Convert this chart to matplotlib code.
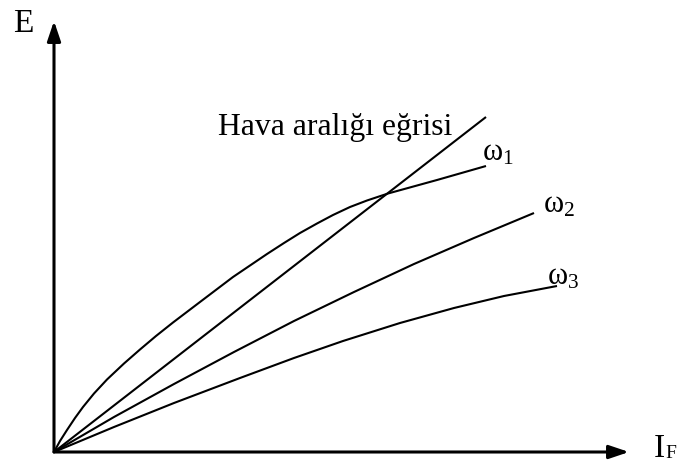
import matplotlib.pyplot as plt

plt.rcParams['font.family'] = ['Liberation Serif', 'DejaVu Serif']
plt.rcParams['mathtext.fontset'] = 'custom'
plt.rcParams['mathtext.rm'] = 'Liberation Serif'
plt.rcParams['mathtext.default'] = 'rm'

# Hava aralığı eğrisi (doğru)
air_x = [0, 432]
air_y = [0, 335]

# Mıknatıslanma eğrileri, farklı hızlar için
w1_x = [0, 6, 13, 21, 29, 40, 53, 70, 86, 102, 119, 146, 179, 213, 230, 246,
        263, 279, 296, 313, 334, 383, 432]
w1_y = [0, 11, 22, 34, 45, 58.5, 72.5, 88.5, 102.5, 116, 129.5, 150, 175, 198,
        209, 219, 228.5, 237, 245, 251.5, 258.5, 272, 286]

w2_x = [0, 60, 120, 180, 240, 300, 360, 420, 480]
w2_y = [0, 35, 68, 100, 131, 160, 188, 214, 239]

w3_x = [0, 60, 120, 186, 240, 289, 346, 400, 450, 503]
w3_y = [0, 25, 49, 74, 94, 111, 129, 144, 156, 166]

fig = plt.figure(figsize=(6.78, 4.67), dpi=100)
ax = fig.add_axes([0, 0, 1, 1])
ax.set_xlim(-54, 624)
ax.set_ylim(-15, 452)
ax.axis('off')

lw = 1.5
for xs, ys in [(air_x, air_y), (w1_x, w1_y), (w2_x, w2_y), (w3_x, w3_y)]:
    ax.plot(xs, ys, color='black', lw=lw, solid_capstyle='butt',
            solid_joinstyle='round')

# eksenler
arrow = dict(arrowstyle='-|>,head_length=0.8,head_width=0.27', lw=2.2,
             color='black', mutation_scale=15, shrinkA=0, shrinkB=0)
ax.annotate('', xy=(0, 431), xytext=(0, 0), arrowprops=arrow)
ax.annotate('', xy=(575, 0), xytext=(0, 0), arrowprops=arrow)

ax.text(-41, 420, 'E', fontsize=24, ha='left', va='baseline')
ax.text(600, -5, 'I', fontsize=24, ha='left', va='baseline')
ax.text(611, -6, 'F', fontsize=14, ha='left', va='baseline')

ax.text(164, 325, 'Hava aralığı eğrisi', fontsize=22.8, ha='left', va='center')
ax.text(428, 299, 'ω$_1$', fontsize=22, ha='left', va='center')
ax.text(489, 247, 'ω$_2$', fontsize=22, ha='left', va='center')
ax.text(493, 175, 'ω$_3$', fontsize=22, ha='left', va='center')

fig.savefig('out.png', dpi=100)
